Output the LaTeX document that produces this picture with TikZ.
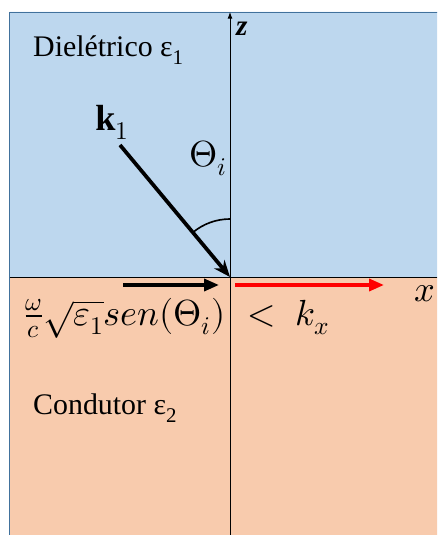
\documentclass[tikz,border=0pt]{standalone}
\usepackage{fontspec}
\usepackage{unicode-math}
\setmainfont{Liberation Serif}
\usepackage{tikz}
\usetikzlibrary{arrows.meta,calc}
\definecolor{dielblue}{HTML}{BDD7EE}
\definecolor{condorange}{HTML}{F8CBAD}
\definecolor{edgeblue}{HTML}{41719C}
\tikzset{
  label text/.style={anchor=west, font=\fontsize{25.5}{29}\selectfont, inner sep=0pt},
  math text/.style={font=\fontsize{31}{36}\selectfont, inner sep=0pt},
  wave/.style={-{Triangle[length=4.5mm,width=3.6mm]}, line width=3pt},
  axis/.style={-{Latex[length=2mm]}, line width=0.8pt}
}
\begin{document}
\begin{tikzpicture}[x=0.03cm, y=0.03cm]
  \useasboundingbox (0,0) rectangle (437,-535);
  \clip (0,0) rectangle (437,-535);
  % media
  \fill[white] (0,0) rectangle (437,-535);
  \draw[fill=dielblue, draw=edgeblue, line width=0.8pt] (9.5,-535) -- (9.5,-12) -- (445,-12) -- (445,-277) -- (9.5,-277);
  \draw[fill=condorange, draw=edgeblue, line width=0.8pt] (9.5,-277) -- (9.5,-540) -- (445,-540) -- (445,-277);
  \draw[line width=0.8pt] (9.5,-277) -- (437,-277);

  \coordinate (O) at (230,-277);
  \coordinate (ztop) at (230,-12);
  \coordinate (zbot) at (230,-535);
  \coordinate (kstart) at (120,-145);

  % axes
  \draw[axis] (zbot) -- (ztop);
  \node[label text, font=\fontsize{25}{28}\selectfont] (zlab) at (236,-29) {\textbf{\textit{z}}};
  \node[math text, anchor=east] (xlab) at (436,-294) {$x$};

  % labels
  \node[label text] (diel) at (33,-50) {Dielétrico ε\textsubscript{1}};
  \node[label text] (cond) at (33,-408) {Condutor ε\textsubscript{2}};
  \node[math text] (klab) at (112,-122) {$\mathbf{k}_1$};
  \node[math text] (theta) at (208,-158) {$\Theta_i$};

  % incident wave and angle
  \draw[wave, -{Stealth[length=5mm,width=4mm]}, line width=3.2pt] (kstart) -- (O);
  \draw[line width=1.4pt] ($(O)+(90:58)$) arc (90:130:58);

  % tangential components
  \coordinate (bstart) at (123,-285);
  \coordinate (bend) at (219,-285);
  \coordinate (rstart) at (235,-285);
  \coordinate (rend) at (384,-285);
  \draw[wave, black] (bstart) -- (bend);
  \draw[wave, red] (rstart) -- (rend);

  \node[math text, anchor=west] (proj) at (24,-318) {$\frac{\omega}{c}\sqrt{\varepsilon_1}sen(\Theta_i)$};
  \node[math text, anchor=west] (kx) at (247,-318) {$<\; k_x$};
\end{tikzpicture}
\end{document}
